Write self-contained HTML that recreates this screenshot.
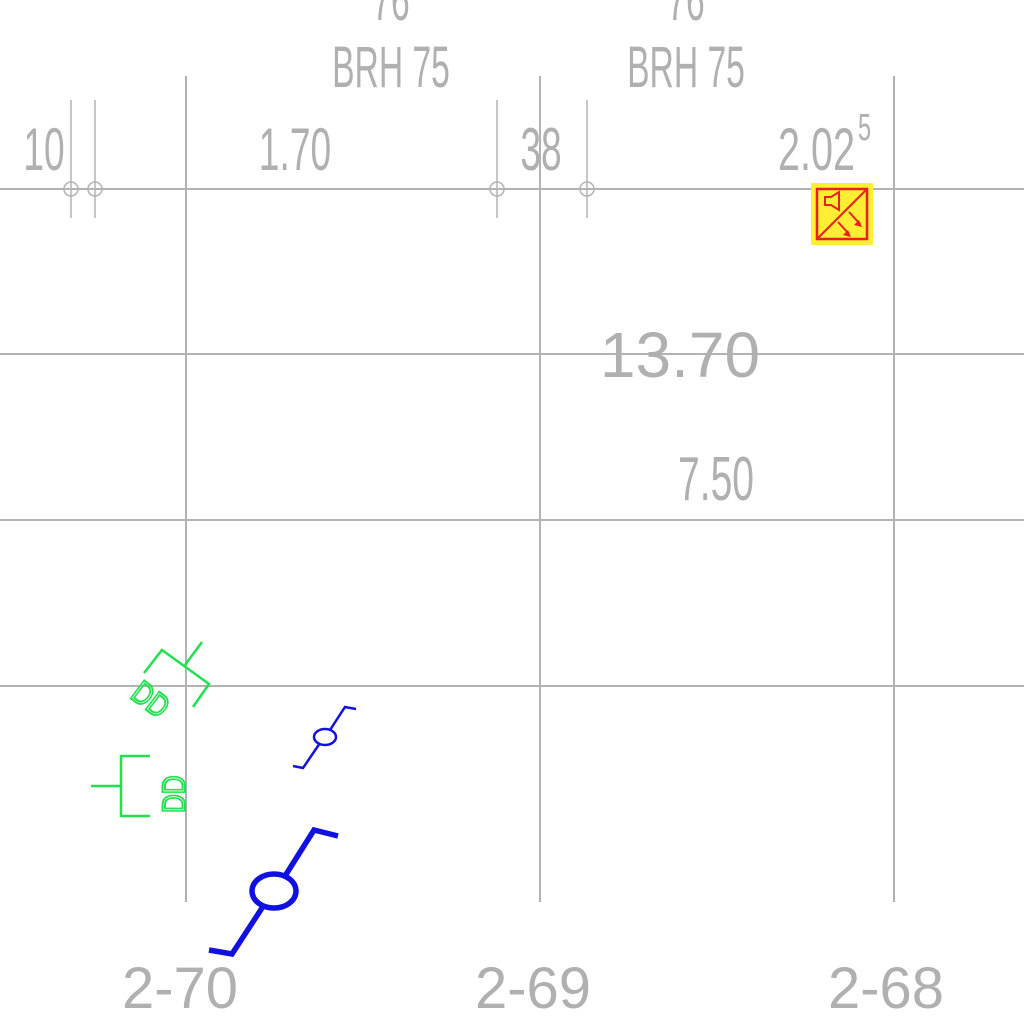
<!DOCTYPE html>
<html><head><meta charset="utf-8"><style>
html,body{margin:0;padding:0;background:#fff;}
svg{display:block;}
text{font-family:"Liberation Sans",sans-serif;fill:#b0b0b0;}
</style></head><body>
<svg width="1024" height="1024" viewBox="0 0 1024 1024">
<g id="grid" stroke="#b3b3b3" stroke-width="2" fill="none"></g>
<g stroke="#b3b3b3" stroke-width="1.5" fill="none">
  <line x1="71" y1="100" x2="71" y2="218"/><circle cx="71" cy="189" r="7"/>
  <line x1="95" y1="100" x2="95" y2="218"/><circle cx="95" cy="189" r="7"/>
  <line x1="497" y1="100" x2="497" y2="218"/><circle cx="497" cy="189" r="7"/>
  <line x1="587" y1="100" x2="587" y2="218"/><circle cx="587" cy="189" r="7"/>
</g>
<g>
  <text transform="translate(391,20) scale(0.58,1)" text-anchor="middle" font-size="58">76</text>
  <text transform="translate(391,87) scale(0.58,1)" text-anchor="middle" font-size="58">BRH 75</text>
  <text transform="translate(686,20) scale(0.58,1)" text-anchor="middle" font-size="58">76</text>
  <text transform="translate(686,87) scale(0.58,1)" text-anchor="middle" font-size="58">BRH 75</text>
  <text transform="translate(44,170) scale(0.62,1)" text-anchor="middle" font-size="60">10</text>
  <text transform="translate(295,170) scale(0.62,1)" text-anchor="middle" font-size="60">1.70</text>
  <text transform="translate(541,170) scale(0.62,1)" text-anchor="middle" font-size="60">38</text>
  <text transform="translate(778,170) scale(0.66,1)" font-size="60">2.02</text>
  <text transform="translate(858,140) scale(0.62,1)" font-size="38">5</text>
  <text x="680" y="377" text-anchor="middle" font-size="64">13.70</text>
  <text transform="translate(716,500) scale(0.63,1)" text-anchor="middle" font-size="62">7.50</text>
  <text x="180" y="1008" text-anchor="middle" font-size="58">2-70</text>
  <text x="533" y="1008" text-anchor="middle" font-size="58">2-69</text>
  <text x="886" y="1008" text-anchor="middle" font-size="58">2-68</text>
</g>
<g>
  <rect x="811" y="183" width="62" height="62" fill="#ffee33"/>
  <rect x="817" y="189" width="50" height="50" fill="none" stroke="#e82020" stroke-width="2.5"/>
  <line x1="817" y1="239" x2="867" y2="189" stroke="#e82020" stroke-width="2"/>
  <path d="M825 197 h6 l8 -5 v18 l-8 -5 h-6z" fill="none" stroke="#e82020" stroke-width="2"/>
  <line x1="849" y1="212" x2="860" y2="224" stroke="#e82020" stroke-width="2"/><path d="M862 227 l-8 -2 l5 -5z" fill="#e82020"/>
  <line x1="838" y1="222" x2="849" y2="234" stroke="#e82020" stroke-width="2"/><path d="M851 237 l-8 -2 l5 -5z" fill="#e82020"/>
</g>
<g stroke="#22e050" stroke-width="2.5" fill="none">
  <polyline points="144,673 162,650 209,684 193,707"/>
  <line x1="185" y1="665" x2="202" y2="642"/>
  <text transform="translate(129,697) rotate(37) scale(1,1.25)" font-size="26" style="fill:none;stroke:#22e050;stroke-width:1.6">DD</text>
</g>
<g stroke="#22e050" stroke-width="2.5" fill="none">
  <line x1="91" y1="786" x2="121" y2="786"/>
  <polyline points="150,756 121,756 121,816 150,816"/>
  <text transform="translate(185,813) rotate(-90) scale(1,1.25)" font-size="26" style="fill:none;stroke:#22e050;stroke-width:1.6">DD</text>
</g>
<g stroke="#1010e0" stroke-width="2.5" fill="none">
  <polyline points="293,766 303,768 320,743"/>
  <ellipse cx="325" cy="737" rx="11" ry="8"/>
  <polyline points="330,730 345,707 356,709"/>
</g>
<g stroke="#1010e0" stroke-width="5.5" fill="none">
  <polyline points="209,950 232,954 262,908"/>
  <ellipse cx="274" cy="891" rx="22" ry="17"/>
  <polyline points="285,876 314,830 338,836"/>
</g>
</svg>
<script>
const hLines=[189,354,520,686];
const vLines=[186,540,894];
const g=document.getElementById('grid');
const ns='http://www.w3.org/2000/svg';
hLines.forEach(y=>{const l=document.createElementNS(ns,'line');


l.setAttribute('x1',0);l.setAttribute('x2',1024);l.setAttribute('y1',y);l.setAttribute('y2',y);g.appendChild(l);});
vLines.forEach(x=>{const l=document.createElementNS(ns,'line');


l.setAttribute('x1',x);l.setAttribute('x2',x);l.setAttribute('y1',76);l.setAttribute('y2',902);g.appendChild(l);});
</script>
</body></html>
